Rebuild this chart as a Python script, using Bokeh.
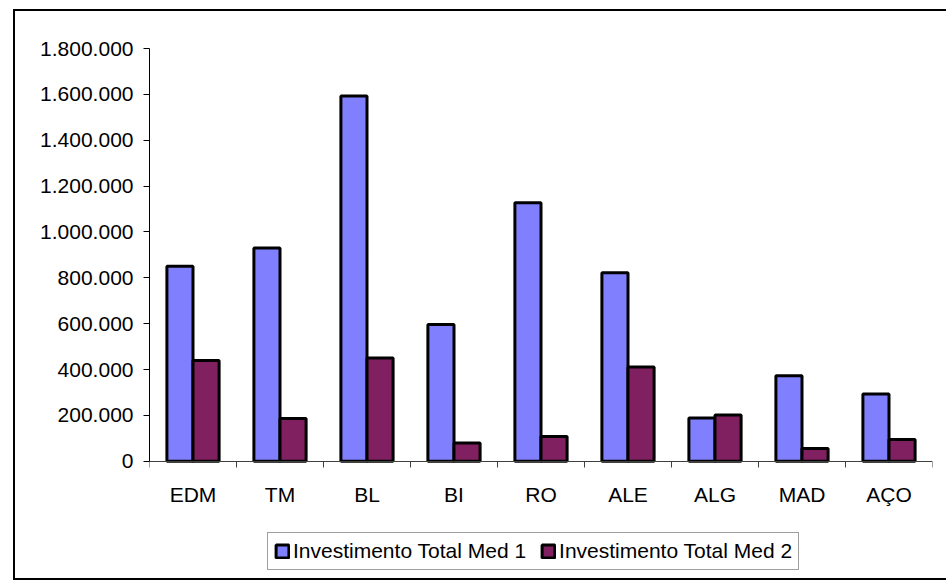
from bokeh.plotting import figure
from bokeh.models import FixedTicker, Legend, LegendItem, ColumnDataSource, Range1d
from bokeh.core.properties import value
from bokeh.embed import file_html
from bokeh.resources import INLINE

categories = ["EDM", "TM", "BL", "BI", "RO", "ALE", "ALG", "MAD", "AÇO"]
med1 = [850000, 930000, 1593000, 597000, 1127000, 822000, 189000, 373000, 293000]
med2 = [440000, 187000, 450000, 80000, 108000, 411000, 202000, 56000, 95000]
series_names = ["Investimento Total Med 1", "Investimento Total Med 2"]
y_ticks = [0, 200000, 400000, 600000, 800000, 1000000, 1200000, 1400000, 1600000, 1800000]
y_tick_labels = ["0", "200.000", "400.000", "600.000", "800.000", "1.000.000",
                 "1.200.000", "1.400.000", "1.600.000", "1.800.000"]

FONT = "Liberation Sans"
FS_WIDE = "21px"
n = len(categories)
idx = list(range(n))
bar_w = 0.3
y_max = y_ticks[-1]

# layout (pixels)
W, H = 934, 571
B_LEFT, B_RIGHT, B_TOP, B_BOTTOM = 134, 17, 37, 8
plot_px = 412.8            # pixels from 0 to y_max
frame_h = H - B_TOP - B_BOTTOM
below_px = frame_h - plot_px
y_start = -y_max * below_px / plot_px

src = ColumnDataSource(dict(
    x1=[i + 0.5 - bar_w / 2 for i in idx],
    x2=[i + 0.5 + bar_w / 2 for i in idx],
    v1=med1, v2=med2,
))
lab = ColumnDataSource(dict(x=[i + 0.5 for i in idx], y=[0] * n, t=categories))

p = figure(width=W, height=H, output_backend="svg", toolbar_location=None,
           x_range=Range1d(0, n), y_range=Range1d(y_start, y_max),
           min_border_left=B_LEFT, min_border_right=B_RIGHT, min_border_top=B_TOP,
           min_border_bottom=B_BOTTOM)
p.margin = (9, 0, 0, 13)
p.styles = {"border-left": "2px solid black", "border-top": "2px solid black",
            "border-bottom": "2px solid black", "box-sizing": "border-box"}
p.outline_line_color = None
p.background_fill_color = "white"
p.border_fill_color = "white"
p.xgrid.visible = False
p.ygrid.visible = False

r1 = p.vbar(x="x1", top="v1", width=bar_w, source=src, fill_color="#8080FF",
            line_color="black", line_width=3)
r2 = p.vbar(x="x2", top="v2", width=bar_w, source=src, fill_color="#802060",
            line_color="black", line_width=3)

p.text(x="x", y="y", text="t", source=lab, text_align="center", text_baseline="top",
       y_offset=22, text_font=value(FONT), text_font_size=FS_WIDE, text_color="black")

# y axis
ya = p.yaxis[0]
ya.bounds = (0, y_max)
ya.ticker = FixedTicker(ticks=y_ticks, minor_ticks=[])
ya.major_label_overrides = {t: l for t, l in zip(y_ticks, y_tick_labels)}
ya.major_tick_out = 6
ya.major_tick_in = 0
ya.minor_tick_out = 0
ya.minor_tick_in = 0
ya.axis_line_color = "black"
ya.major_tick_line_color = "black"
ya.major_label_text_font = FONT
ya.major_label_text_font_size = FS_WIDE
ya.major_label_text_color = "black"
ya.major_label_standoff = 10

# x axis drawn at y = 0, ticks at category boundaries
xa = p.xaxis[0]
xa.fixed_location = 0
xa.ticker = FixedTicker(ticks=[], minor_ticks=list(range(n + 1)))
xa.major_tick_out = 0
xa.major_tick_in = 0
xa.major_label_standoff = 0
xa.minor_tick_out = 6
xa.minor_tick_in = 0
xa.minor_tick_line_color = "#404040"
xa.axis_line_color = "#404040"

legend = Legend(items=[LegendItem(label=series_names[0], renderers=[r1]),
                       LegendItem(label=series_names[1], renderers=[r2])],
                orientation="horizontal", location=(118, 4),
                label_text_font=FONT, label_text_font_size=FS_WIDE,
                label_text_color="black", glyph_width=16, glyph_height=16,
                label_height=20, label_standoff=3, spacing=14, padding=6,
                margin=0, border_line_color="#404040", border_line_width=1,
                background_fill_color="white", background_fill_alpha=1.0)
p.add_layout(legend, "center")

open("out.html", "w").write(file_html(p, INLINE))
